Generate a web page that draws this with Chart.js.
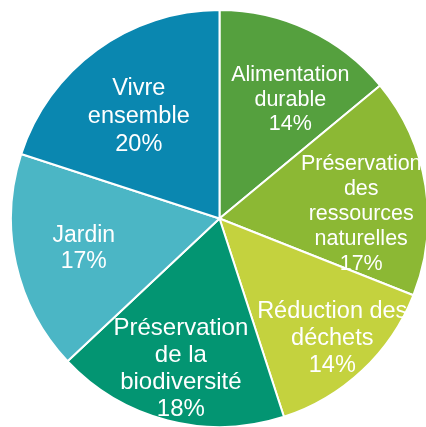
<!DOCTYPE html>
<html>
<head>
<meta charset="utf-8">
<script src="https://cdn.jsdelivr.net/npm/chart.js@4/dist/chart.umd.min.js"></script>
<style>
  html, body { margin: 0; padding: 0; background: #fff; overflow: hidden; width: 426px; height: 427px; }
  #wrap { position: absolute; left: 10px; top: 9px; width: 419px; height: 419px; }
</style>
</head>
<body>
<div id="wrap"><canvas id="pie"></canvas></div>
<script>
// Données
const categories = [
    ['Alimentation', 'durable'],
    ['Préservation', 'des', 'ressources', 'naturelles'],
    ['Réduction des', 'déchets'],
    ['Préservation', 'de la', 'biodiversité'],
    ['Jardin'],
    ['Vivre', 'ensemble']
];
const values = [14, 17, 14, 18, 17, 20];
const colors = ['#55a03e', '#8cb834', '#c4d23e', '#039572', '#4bb6c5', '#0a87b0'];

// placement des étiquettes (fraction du rayon, décalage d'angle en degrés, taille, interligne)
const labelLayout = [
    { r: 0.663, shift: 5.6, size: 21.5, lh: 24.5 },
    { r: 0.68, shift: 7.4, size: 21.5, lh: 25 },
    { r: 0.79, shift: 0, size: 23.5, lh: 27 },
    { r: 0.745, shift: 0, size: 24, lh: 27 },
    { r: 0.667, shift: 0, size: 23, lh: 26 },
    { r: 0.622, shift: -2.5, size: 23.5, lh: 28 }
];

const total = values.reduce((s, v) => s + v, 0);

const sliceLabels = {
    id: 'sliceLabels',
    afterDatasetsDraw(chart) {
        const ctx = chart.ctx;
        const arcs = chart.getDatasetMeta(0).data;
        ctx.save();
        ctx.fillStyle = '#fff';
        ctx.textAlign = 'center';
        ctx.textBaseline = 'middle';
        arcs.forEach((arc, i) => {
            const { x, y, startAngle, endAngle, outerRadius } = arc.getProps(['x', 'y', 'startAngle', 'endAngle', 'outerRadius'], true);
            const lay = labelLayout[i];
            const mid = (startAngle + endAngle) / 2 + lay.shift * Math.PI / 180;
            const cx = x + Math.cos(mid) * outerRadius * lay.r;
            const cy = y + Math.sin(mid) * outerRadius * lay.r;
            const lines = [...categories[i], Math.round(values[i] / total * 100) + '%'];
            ctx.font = `${lay.size}px "Liberation Sans", Arial, sans-serif`;
            const y0 = cy - (lines.length - 1) * lay.lh / 2;
            lines.forEach((t, k) => ctx.fillText(t, cx, y0 + k * lay.lh));
        });
        ctx.restore();
    }
};

new Chart(document.getElementById('pie').getContext('2d'), {
    type: 'pie',
    data: {
        labels: categories,
        datasets: [{
            data: values,
            backgroundColor: colors,
            borderColor: '#fff',
            borderWidth: 2
        }]
    },
    options: {
        responsive: true, maintainAspectRatio: false, animation: false,
        layout: { padding: 0 },
        plugins: { legend: { display: false }, tooltip: { enabled: false } }
    },
    plugins: [sliceLabels]
});
</script>
</body>
</html>
